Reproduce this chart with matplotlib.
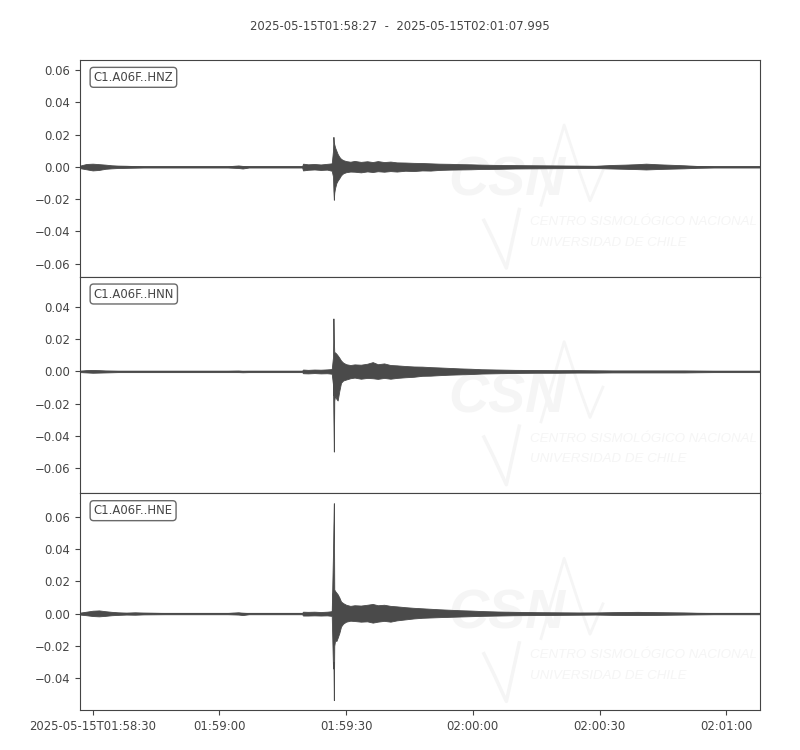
import matplotlib
matplotlib.use('Agg')
import numpy as np
import matplotlib.pyplot as plt
import matplotlib.dates as mdates
from matplotlib.ticker import MultipleLocator, FuncFormatter
from datetime import datetime, timedelta

# trace window
start = datetime(2025, 5, 15, 1, 58, 27)
end_str = '2025-05-15T02:01:07.995'
labels = ['C1.A06F..HNZ', 'C1.A06F..HNN', 'C1.A06F..HNE']

# envelope sample times (seconds after start)
t_env = [0, 1.5, 3, 4.5, 6, 7.5, 9, 11, 13, 15,
         20, 25, 30, 35, 37.5, 38.5, 40, 45, 50, 52.6,
         52.8, 54, 55.5, 57, 58.5, 59.6, 59.9, 60.0, 60.1, 60.2,
         60.4, 60.7, 61.0, 61.4, 61.8, 62.3, 63, 64, 65, 66.5,
         68, 69.3, 70.5, 72, 73.5, 75, 77, 79, 81, 83,
         85, 87.5, 90, 92.5, 95, 99, 103, 108, 113, 118,
         122, 126, 129, 132, 134, 137, 140, 143, 146, 150,
         155, 160.995]

# upper / lower envelopes
hnz_hi = [0.0008, 0.0018, 0.0020, 0.0017, 0.0014, 0.0010, 0.0008, 0.0007, 0.0005, 0.0004,
          0.0004, 0.0004, 0.0004, 0.0004, 0.0009, 0.0006, 0.0004, 0.0004, 0.0004, 0.0004,
          0.0020, 0.0016, 0.0018, 0.0015, 0.0019, 0.0022, 0.0100, 0.0186, 0.0150, 0.0140,
          0.0120, 0.0100, 0.0080, 0.0062, 0.0050, 0.0042, 0.0036, 0.0032, 0.0037, 0.0031,
          0.0035, 0.0030, 0.0036, 0.0030, 0.0033, 0.0028, 0.0027, 0.0025, 0.0024, 0.0022,
          0.0020, 0.0019, 0.0017, 0.0016, 0.0014, 0.0012, 0.0011, 0.0010, 0.0009, 0.0008,
          0.0007, 0.0012, 0.0014, 0.0017, 0.0020, 0.0016, 0.0013, 0.0010, 0.0006, 0.0004,
          0.0004, 0.0004]
hnz_lo = [-0.0008, -0.0015, -0.0022, -0.0019, -0.0012, -0.0009, -0.0007, -0.0006, -0.0005, -0.0004,
          -0.0004, -0.0004, -0.0004, -0.0004, -0.0007, -0.0010, -0.0004, -0.0004, -0.0004, -0.0004,
          -0.0022, -0.0018, -0.0016, -0.0019, -0.0017, -0.0024, -0.0060, -0.0150, -0.0204, -0.0160,
          -0.0130, -0.0100, -0.0085, -0.0070, -0.0052, -0.0040, -0.0033, -0.0029, -0.0030, -0.0034,
          -0.0028, -0.0032, -0.0027, -0.0030, -0.0026, -0.0029, -0.0024, -0.0026, -0.0022, -0.0023,
          -0.0019, -0.0017, -0.0016, -0.0015, -0.0013, -0.0012, -0.0010, -0.0009, -0.0008, -0.0007,
          -0.0007, -0.0010, -0.0012, -0.0014, -0.0016, -0.0013, -0.0011, -0.0009, -0.0006, -0.0004,
          -0.0004, -0.0004]

hnn_hi = [0.0004, 0.0008, 0.0009, 0.0008, 0.0006, 0.0005, 0.0004, 0.0004, 0.0004, 0.0004,
          0.0004, 0.0004, 0.0004, 0.0004, 0.0005, 0.0004, 0.0004, 0.0004, 0.0004, 0.0004,
          0.0012, 0.0010, 0.0012, 0.0011, 0.0013, 0.0015, 0.0090, 0.0329, 0.0200, 0.0120,
          0.0118, 0.0110, 0.0100, 0.0085, 0.0068, 0.0055, 0.0045, 0.0040, 0.0044, 0.0042,
          0.0048, 0.0058, 0.0045, 0.0050, 0.0040, 0.0038, 0.0034, 0.0031, 0.0030, 0.0027,
          0.0025, 0.0022, 0.0019, 0.0017, 0.0014, 0.0012, 0.0010, 0.0009, 0.0008, 0.0008,
          0.0007, 0.0006, 0.0006, 0.0006, 0.0006, 0.0006, 0.0006, 0.0006, 0.0005, 0.0004,
          0.0004, 0.0004]
hnn_lo = [-0.0004, -0.0006, -0.0008, -0.0007, -0.0006, -0.0005, -0.0004, -0.0004, -0.0004, -0.0004,
          -0.0004, -0.0004, -0.0004, -0.0004, -0.0004, -0.0005, -0.0004, -0.0004, -0.0004, -0.0004,
          -0.0011, -0.0012, -0.0010, -0.0012, -0.0011, -0.0014, -0.0080, -0.0300, -0.0497, -0.0180,
          -0.0150, -0.0170, -0.0180, -0.0120, -0.0070, -0.0056, -0.0050, -0.0042, -0.0038, -0.0045,
          -0.0040, -0.0042, -0.0046, -0.0040, -0.0045, -0.0040, -0.0036, -0.0033, -0.0027, -0.0026,
          -0.0023, -0.0020, -0.0018, -0.0016, -0.0013, -0.0011, -0.0009, -0.0008, -0.0008, -0.0007,
          -0.0007, -0.0006, -0.0006, -0.0006, -0.0006, -0.0006, -0.0006, -0.0006, -0.0005, -0.0004,
          -0.0004, -0.0004]

hne_hi = [0.0006, 0.0012, 0.0018, 0.0020, 0.0015, 0.0011, 0.0008, 0.0006, 0.0008, 0.0006,
          0.0004, 0.0004, 0.0004, 0.0004, 0.0008, 0.0006, 0.0004, 0.0004, 0.0004, 0.0004,
          0.0012, 0.0011, 0.0012, 0.0010, 0.0012, 0.0015, 0.0380, 0.0550, 0.0685, 0.0150,
          0.0140, 0.0130, 0.0120, 0.0100, 0.0075, 0.0065, 0.0055, 0.0048, 0.0052, 0.0050,
          0.0055, 0.0060, 0.0052, 0.0055, 0.0048, 0.0045, 0.0040, 0.0036, 0.0033, 0.0030,
          0.0027, 0.0024, 0.0021, 0.0019, 0.0016, 0.0013, 0.0011, 0.0009, 0.0008, 0.0007,
          0.0007, 0.0009, 0.0010, 0.0011, 0.0010, 0.0009, 0.0008, 0.0007, 0.0005, 0.0004,
          0.0004, 0.0004]
hne_lo = [-0.0006, -0.0010, -0.0015, -0.0017, -0.0014, -0.0010, -0.0008, -0.0006, -0.0007, -0.0005,
          -0.0004, -0.0004, -0.0004, -0.0004, -0.0006, -0.0009, -0.0004, -0.0004, -0.0004, -0.0004,
          -0.0012, -0.0012, -0.0011, -0.0012, -0.0011, -0.0014, -0.0340, -0.0300, -0.0537, -0.0200,
          -0.0165, -0.0170, -0.0150, -0.0120, -0.0080, -0.0062, -0.0050, -0.0044, -0.0046, -0.0050,
          -0.0048, -0.0056, -0.0050, -0.0045, -0.0050, -0.0042, -0.0036, -0.0030, -0.0026, -0.0024,
          -0.0022, -0.0020, -0.0018, -0.0016, -0.0014, -0.0012, -0.0010, -0.0009, -0.0008, -0.0007,
          -0.0006, -0.0008, -0.0009, -0.0009, -0.0009, -0.0008, -0.0007, -0.0006, -0.0005, -0.0004,
          -0.0004, -0.0004]

traces = [(hnz_hi, hnz_lo), (hnn_hi, hnn_lo), (hne_hi, hne_lo)]

grey = '#444444'
trace_col = '#4a4a4a'
wm_col = '#f5f5f5'
plt.rcParams['text.color'] = grey
plt.rcParams['axes.edgecolor'] = grey
plt.rcParams['xtick.color'] = grey
plt.rcParams['ytick.color'] = grey
plt.rcParams['axes.labelcolor'] = grey

t_dates = mdates.date2num([start + timedelta(seconds=s) for s in t_env])

fig, axes = plt.subplots(3, 1, sharex=True, figsize=(8, 7.5), dpi=100)
fig.subplots_adjust(left=0.1, right=0.95, top=0.92, bottom=0.0533, hspace=0)

# same y span for every trace (like obspy equal_scale)
span = max(max(h) - min(l) for h, l in traces) * 1.1

for ax, label, (hi, lo) in zip(axes, labels, traces):
    hi = np.array(hi)
    lo = np.array(lo)
    # faint logo watermark (axes fractions)
    ax.text(0.628, 0.44, 'CSN', transform=ax.transAxes, ha='center', va='center',
            fontsize=40, fontweight='bold', style='italic', color=wm_col,
            family='Liberation Sans', zorder=0, clip_on=True)
    ax.plot([0.678, 0.712, 0.735, 0.75, 0.769], [0.33, 0.70, 0.48, 0.35, 0.49],
            transform=ax.transAxes, color=wm_col, lw=2, zorder=0)
    ax.plot([0.594, 0.608, 0.627, 0.646], [0.26, 0.17, 0.04, 0.31],
            transform=ax.transAxes, color=wm_col, lw=2.5, zorder=0)
    ax.text(0.662, 0.253, 'CENTRO SISMOLÓGICO NACIONAL', transform=ax.transAxes,
            ha='left', va='center', fontsize=9.6, style='italic', color=wm_col,
            family='Liberation Sans', zorder=0, clip_on=True)
    ax.text(0.662, 0.157, 'UNIVERSIDAD DE CHILE', transform=ax.transAxes,
            ha='left', va='center', fontsize=9.6, style='italic', color=wm_col,
            family='Liberation Sans', zorder=0, clip_on=True)

    ax.fill_between(t_dates, lo, hi, color=trace_col, lw=0.6, zorder=2)
    ax.plot(t_dates, (hi + lo) / 2, color=trace_col, lw=1.0, zorder=2)

    mid = (hi.max() + lo.min()) / 2
    ax.set_ylim(mid - span / 2, mid + span / 2)
    ax.yaxis.set_major_locator(MultipleLocator(0.02))
    ax.tick_params(axis='y', labelsize='small')
    ax.text(0.02, 0.95, label, transform=ax.transAxes, ha='left', va='top',
            fontsize='small',
            bbox=dict(boxstyle='round', fc='white', ec=grey, alpha=0.8))

for ax in axes[:-1]:
    ax.tick_params(axis='x', bottom=False, labelbottom=False)

def fmt_time(x, pos):
    d = mdates.num2date(x)
    if pos == 0:
        return d.strftime('%Y-%m-%dT%H:%M:%S')
    return d.strftime('%H:%M:%S')

axes[-1].set_xlim(t_dates[0], t_dates[-1])
axes[-1].xaxis.set_major_locator(mdates.SecondLocator(bysecond=[0, 30]))
axes[-1].xaxis.set_major_formatter(FuncFormatter(fmt_time))
axes[-1].tick_params(axis='x', labelsize='small')

fig.suptitle(start.strftime('%Y-%m-%dT%H:%M:%S') + '  -  ' + end_str,
             fontsize='small', y=0.973)

fig.savefig('out.png', dpi=100)
